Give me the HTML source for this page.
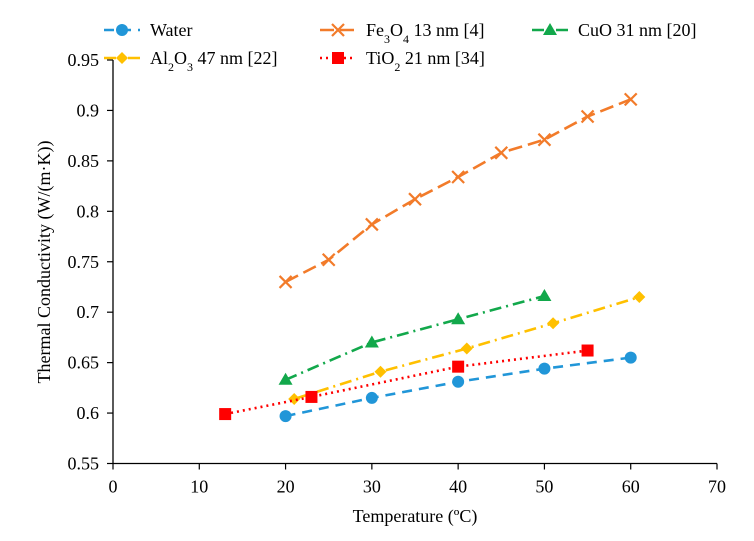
<!DOCTYPE html>
<html><head><meta charset="utf-8"><style>
body{margin:0;background:#fff;}
svg{font-family:"Liberation Serif",serif;}
</style></head><body>
<svg id="c" width="754" height="536"></svg>
<script>
const categoriesSeries=["Water","Fe3O4 13 nm [4]","CuO 31 nm [20]","Al2O3 47 nm [22]","TiO2 21 nm [34]"];
const waterX=[20,30,40,50,60];
const waterY=[0.597,0.615,0.631,0.644,0.655];
const feX=[20,25,30,35,40,45,50,55,60];
const feY=[0.730,0.752,0.787,0.812,0.834,0.858,0.871,0.894,0.911];
const cuoX=[20,30,40,50];
const cuoY=[0.633,0.670,0.693,0.716];
const alX=[21,31,41,51,61];
const alY=[0.614,0.641,0.664,0.689,0.715];
const tiX=[13,23,40,55];
const tiY=[0.599,0.616,0.646,0.662];
const xTicks=[0,10,20,30,40,50,60,70];
const yTicks=[0.55,0.6,0.65,0.7,0.75,0.8,0.85,0.9,0.95];

const NS="http://www.w3.org/2000/svg";
const svg=document.getElementById('c');
const X0=113,X1=717,Y0=463.5,Y1=60;
const sx=v=>X0+(v-0)/(70-0)*(X1-X0);
const sy=v=>Y0-(v-0.55)/(0.95-0.55)*(Y0-Y1);
function mk(t,a,p){const e=document.createElementNS(NS,t);for(const k in a)e.setAttribute(k,a[k]);(p||svg).appendChild(e);return e;}

// axes
let ax=mk('line',{x1:X0,y1:Y0,x2:X1,y2:Y0,stroke:'#000','stroke-width':1.3});


let ay=mk('line',{x1:X0,y1:Y0,x2:X0,y2:Y1,stroke:'#000','stroke-width':1.3});


xTicks.forEach(v=>{
  mk('line',{x1:sx(v),y1:Y0,x2:sx(v),y2:Y0+6,stroke:'#000','stroke-width':1.2});
  const t=mk('text',{x:sx(v),y:Y0+29,'text-anchor':'middle','font-size':18});
  t.textContent=v;
  
  
});
yTicks.forEach(v=>{
  mk('line',{x1:X0-6,y1:sy(v),x2:X0,y2:sy(v),stroke:'#000','stroke-width':1.2});
  const t=mk('text',{x:X0-14,y:sy(v)+6,'text-anchor':'end','font-size':18});
  t.textContent=String(v);
  
  
});
let xt=mk('text',{x:415,y:522,'text-anchor':'middle','font-size':18});
xt.textContent='Temperature (ºC)';


let yt=mk('text',{x:0,y:0,'text-anchor':'middle','font-size':18,transform:'translate(50,262) rotate(-90)'});
yt.textContent='Thermal Conductivity (W/(m·K))';



function marker(g,type,x,y,col){
  if(type==='circle')mk('circle',{cx:x,cy:y,r:6,fill:col},g);
  else if(type==='x'){mk('path',{d:`M${x-6} ${y-6}L${x+6} ${y+6}M${x-6} ${y+6}L${x+6} ${y-6}`,stroke:col,'stroke-width':2.2},g);}
  else if(type==='tri')mk('polygon',{points:`${x},${y-7} ${x+7},${y+5} ${x-7},${y+5}`,fill:col},g);
  else if(type==='dia')mk('polygon',{points:`${x},${y-6} ${x+6},${y} ${x},${y+6} ${x-6},${y}`,fill:col},g);
  else if(type==='sq')mk('rect',{x:x-6,y:y-6,width:12,height:12,fill:col},g);
}
const series=[
 [waterX,waterY,'#2196D8','10,7','circle','series-water'],
 [feX,feY,'#F27B2A','14,6','x','series-fe3o4'],
 [cuoX,cuoY,'#12A84B','12,5,2,5','tri','series-cuo'],
 [alX,alY,'#FFC000','12,5,2,5','dia','series-al2o3'],
 [tiX,tiY,'#FF0000','2,4','sq','series-tio2']
];
series.forEach(([xs,ys,col,da,m,name])=>{
  const g=mk('g',{});
  
  
  const pts=xs.map((x,i)=>sx(x)+','+sy(ys[i])).join(' ');
  mk('polyline',{points:pts,fill:'none',stroke:col,'stroke-width':2.6,'stroke-dasharray':da},g);
  xs.forEach((x,i)=>marker(g,m,sx(x),sy(ys[i]),col));
});

// legend
const leg=[
 [112,30,'#2196D8','10,7','circle','Water','legend-water'],
 [328,30,'#F27B2A','14,6','x','Fe<tspan baseline-shift="sub" font-size="12">3</tspan>O<tspan baseline-shift="sub" font-size="12">4</tspan> 13 nm [4]','legend-fe3o4'],
 [540,30,'#12A84B','12,5,2,5','tri','CuO 31 nm [20]','legend-cuo'],
 [112,58,'#FFC000','12,5,2,5','dia','Al<tspan baseline-shift="sub" font-size="12">2</tspan>O<tspan baseline-shift="sub" font-size="12">3</tspan> 47 nm [22]','legend-al2o3'],
 [328,58,'#FF0000','2,4','sq','TiO<tspan baseline-shift="sub" font-size="12">2</tspan> 21 nm [34]','legend-tio2']
];
leg.forEach(([x,y,col,da,m,label,name])=>{
  const g=mk('g',{});
  
  
  mk('line',{x1:x-8,y1:y,x2:x+28,y2:y,stroke:col,'stroke-width':2.6,'stroke-dasharray':da},g);
  marker(g,m,x+10,y,col);
  const t=mk('text',{x:x+38,y:y+6,'font-size':18},g);
  t.innerHTML=label;
});
</script>
</body></html>
